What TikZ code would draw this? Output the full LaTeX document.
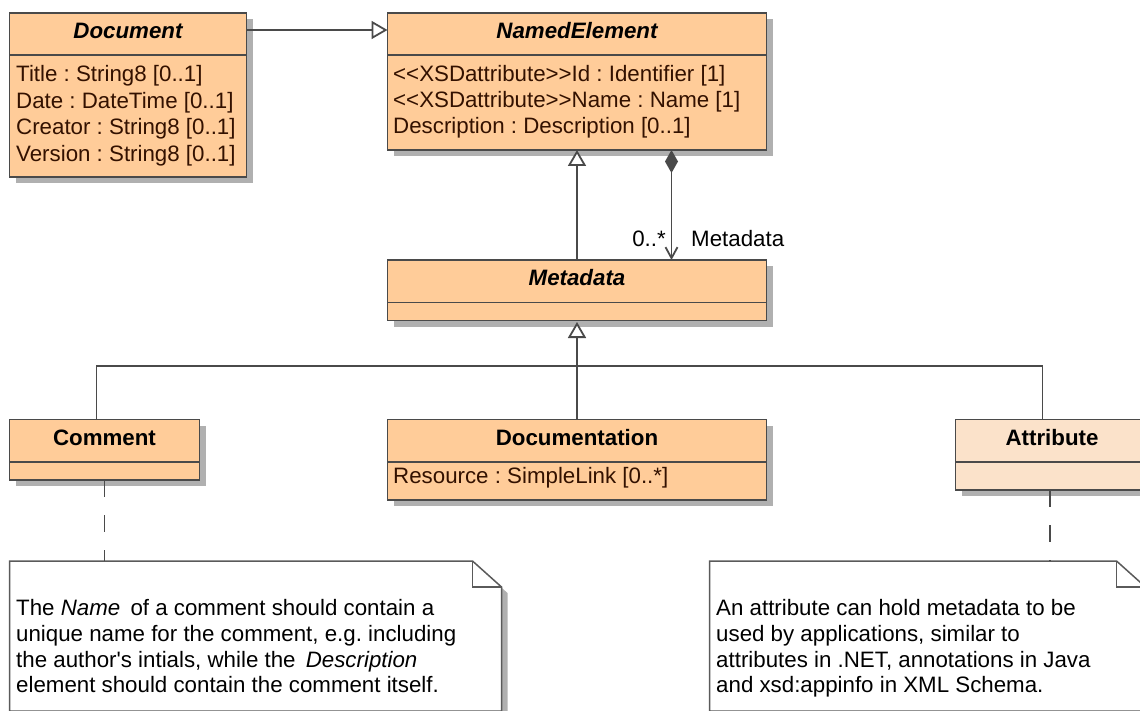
\documentclass[tikz,border=0pt]{standalone}
\usepackage{fontspec}
\setmainfont{Liberation Sans}
\usetikzlibrary{arrows.meta,shadows}
\definecolor{classfill}{HTML}{FFCC99}
\definecolor{classfilllight}{HTML}{FBE2CA}
\definecolor{edgecol}{HTML}{4A4A4A}
\definecolor{shadecol}{HTML}{B0B0B0}
\definecolor{notecol}{HTML}{5A5A5A}
\definecolor{attrtext}{HTML}{331100}

\newcommand{\umlfont}{\fontsize{22.3pt}{26pt}\selectfont}
\frenchspacing

\begin{document}
\begin{tikzpicture}[x=1pt,y=-1pt,
  font=\umlfont,
  classbox/.style={draw=edgecol, line width=1.8pt, fill=classfill,
    anchor=north west, inner sep=0pt, outer sep=0pt,
    drop shadow={shadow xshift=6pt, shadow yshift=-6pt, fill=shadecol, opacity=1}},
  divider/.style={draw=edgecol, line width=1.8pt},
  hdrabstract/.style={anchor=base, inner sep=0pt, font=\umlfont\bfseries\itshape},
  hdr/.style={anchor=base, inner sep=0pt, font=\umlfont\bfseries},
  attrline/.style={anchor=base west, inner sep=0pt, text=attrtext},
  label/.style={inner sep=0pt},
  noteline/.style={anchor=base west, inner sep=0pt},
  conn/.style={draw=edgecol, line width=1.8pt},
  gen/.style={conn, -{Triangle[open, length=16pt, width=18pt, fill=white]}},
  compo/.style={conn, {Diamond[length=23pt, width=13pt, fill=edgecol]}-{Straight Barb[length=11pt, width=12pt]}},
  anchorline/.style={draw=edgecol, line width=1.8pt, dash pattern=on 17pt off 18pt},
  notebody/.style={draw=notecol, line width=1.5pt, fill=white, line join=miter},
  noteshadow/.style={fill=shadecol, draw=none},
]
\useasboundingbox (0,0) rectangle (1140,711);
\clip (0,0) rectangle (1140,711);

% ---------- classes ----------
\node[classbox, minimum width=237pt, minimum height=164pt] (doc) at (9.5,13) {};
\draw[divider] (9.5,55) -- (246.5,55);
\node[hdrabstract] (docH) at (128,39) {Document};
\node[attrline] (docA1) at (16,82) {Title : String8 [0..1]};
\node[attrline] (docA2) at (16,108.5) {Date : DateTime [0..1]};
\node[attrline] (docA3) at (16,135) {Creator : String8 [0..1]};
\node[attrline] (docA4) at (16,161.5) {Version : String8 [0..1]};

\node[classbox, minimum width=379pt, minimum height=137pt] (ne) at (387.5,13) {};
\draw[divider] (387.5,55) -- (766.5,55);
\node[hdrabstract] (neH) at (577,39) {NamedElement};
\node[attrline] (neA1) at (393,82) {<{}<XSDattribute>{}>Id : Identifier [1]};
\node[attrline] (neA2) at (393,108) {<{}<XSDattribute>{}>Name : Name [1]};
\node[attrline] (neA3) at (393,134) {Description : Description [0..1]};

\node[classbox, minimum width=379pt, minimum height=60.5pt] (meta) at (387.5,260) {};
\draw[divider] (387.5,302.5) -- (766.5,302.5);
\node[hdrabstract] (metaH) at (577,286) {Metadata};

\node[classbox, minimum width=190pt, minimum height=60.5pt] (cmt) at (9.5,419.5) {};
\draw[divider] (9.5,462) -- (199.5,462);
\node[hdr] (cmtH) at (104.5,445.5) {Comment};

\node[classbox, minimum width=379pt, minimum height=80.5pt] (doco) at (387.5,419.5) {};
\draw[divider] (387.5,462) -- (766.5,462);
\node[hdr] (docoH) at (577,445.5) {Documentation};
\node[attrline] (docoA1) at (393,483.3) {Resource : SimpleLink [0..*]};

\node[classbox, fill=classfilllight, minimum width=193pt, minimum height=70.5pt] (attr) at (955.5,419.5) {};
\draw[divider] (955.5,462) -- (1148.5,462);
\node[hdr] (attrH) at (1052,445.5) {Attribute};

% ---------- relations ----------
\draw[gen] ([yshift=-17pt]doc.north east) -- ([yshift=-17pt]ne.north west);
\draw[gen] (meta.north) -- (ne.south);
\draw[compo] ([xshift=94.5pt]ne.south) -- ([xshift=94.5pt]meta.north);
\node[label, anchor=base east] (mult) at (666,246.5) {0..*};
\node[label, anchor=base west] (role) at (691,246.5) {Metadata};

\coordinate (tj) at (577,366);
\draw[gen] (doco.north) -- ([yshift=-1.5pt]meta.south);
\draw[conn] ([xshift=-8pt]cmt.north) |- (tj);
\draw[conn] ([xshift=-9.5pt]attr.north) |- (tj);

% ---------- notes ----------
\coordinate (n1top) at (104.5,561);
\coordinate (n2top) at (1050,561);

\fill[noteshadow] (15.5,567) -- (478.5,567) -- (507.5,593) -- (507.5,720) -- (15.5,720) -- cycle;
\draw[notebody] (9.5,561) -- (472.5,561) -- (501.5,587) -- (501.5,711) -- (9.5,711) -- cycle;
\draw[notebody, fill=none] (472.5,561) -- (472.5,587) -- (501.5,587);
\node[noteline] (n1l1) at (16,615) {The \textit{Name}\hspace{4pt} of a comment should contain a};
\node[noteline] (n1l2) at (16,641) {unique name for the comment, e.g. including};
\node[noteline] (n1l3) at (16,667) {the author\textquotesingle s intials, while the \hspace{4pt}\textit{Description}};
\node[noteline] (n1l4) at (16,692.5) {element should contain the comment itself.};

\fill[noteshadow] (715.5,567) -- (1122.5,567) -- (1151.5,593) -- (1151.5,720) -- (715.5,720) -- cycle;
\draw[notebody] (709.5,561) -- (1116.5,561) -- (1145.5,587) -- (1145.5,711) -- (709.5,711) -- cycle;
\draw[notebody, fill=none] (1116.5,561) -- (1116.5,587) -- (1145.5,587);
\node[noteline] (n2l1) at (716,615) {An attribute can hold metadata to be};
\node[noteline] (n2l2) at (716,641) {used by applications, similar to};
\node[noteline] (n2l3) at (716,667) {attributes in .NET, annotations in Java};
\node[noteline] (n2l4) at (716,692.5) {and xsd:appinfo in XML Schema.};

\draw[anchorline] (cmt.south) -- (n1top);
\draw[anchorline] ([xshift=-2pt]attr.south) -- (n2top);
\end{tikzpicture}
\end{document}
